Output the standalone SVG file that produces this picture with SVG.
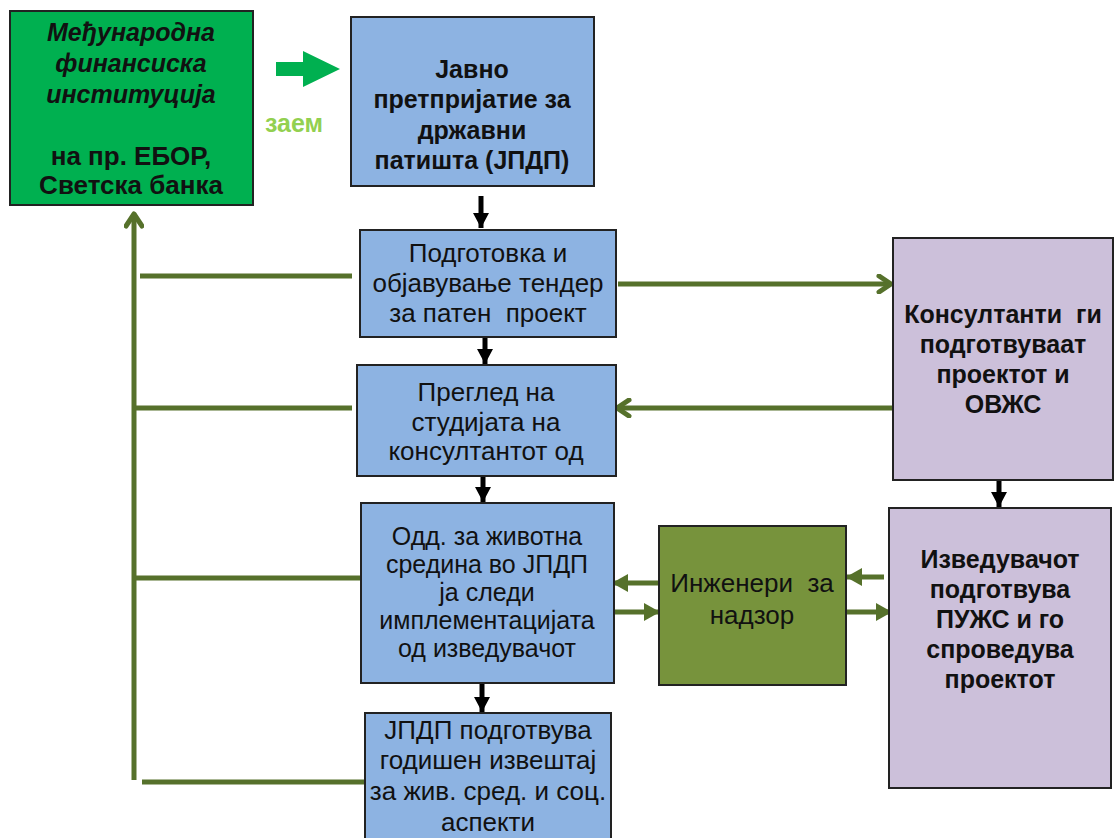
<svg xmlns="http://www.w3.org/2000/svg" width="1114" height="838" viewBox="0 0 1114 838">
<style>
.box{stroke:#222;stroke-width:2}
.blue{fill:#8DB3E2}
.purple{fill:#CCC0DA}
.olive{fill:#77933C}
.fin{fill:#00B050}
text{font-family:"Liberation Sans",Arial,sans-serif;text-anchor:middle;fill:#111}
.b{font-weight:bold;font-size:25px}
.r{font-size:26px}
.r2{font-size:25px}
.it{font-weight:bold;font-style:italic;font-size:25px}
.g{fill:none;stroke:#56712B;stroke-width:5}
.k{fill:none;stroke:#000;stroke-width:5}
</style>
<defs>
<marker id="open" viewBox="0 0 20 20" refX="17" refY="10" markerUnits="userSpaceOnUse" markerWidth="20" markerHeight="20" orient="auto">
<path d="M5,2 L17,10 L5,18" fill="none" stroke="#56712B" stroke-width="5" stroke-linecap="round" stroke-linejoin="round"/>
</marker>
<marker id="fill" viewBox="0 0 16 18" refX="15" refY="9" markerUnits="userSpaceOnUse" markerWidth="16" markerHeight="18" orient="auto">
<path d="M0,0 L16,9 L0,18 Z" fill="#56712B"/>
</marker>
<marker id="blk" viewBox="0 0 16 16" refX="8" refY="15" markerUnits="userSpaceOnUse" markerWidth="16" markerHeight="16" orient="0">
<path d="M0,0 L16,0 L8,15 Z" fill="#000"/>
</marker>
</defs>

<g id="connectors">
<!-- left feedback bus -->
<line class="g" x1="134" y1="780" x2="134" y2="214" marker-end="url(#open)"/>
<line class="g" x1="140" y1="276" x2="352" y2="276"/>
<line class="g" x1="134" y1="408" x2="352" y2="408"/>
<line class="g" x1="134" y1="578" x2="360" y2="578"/>
<line class="g" x1="142" y1="782" x2="366" y2="782"/>
<!-- consultants -->
<line class="g" x1="618" y1="284" x2="891" y2="284" marker-end="url(#open)"/>
<line class="g" x1="893" y1="408" x2="617" y2="408" marker-end="url(#open)"/>
<!-- supervision -->
<line class="g" x1="659" y1="583" x2="613" y2="583" marker-end="url(#fill)"/>
<line class="g" x1="615" y1="612" x2="659" y2="612" marker-end="url(#fill)"/>
<line class="g" x1="884" y1="577" x2="847" y2="577" marker-end="url(#fill)"/>
<line class="g" x1="847" y1="612" x2="891" y2="612" marker-end="url(#fill)"/>
<!-- black down arrows -->
<line class="k" x1="481" y1="196" x2="481" y2="228" marker-end="url(#blk)"/>
<line class="k" x1="485" y1="338" x2="485" y2="364" marker-end="url(#blk)"/>
<line class="k" x1="483" y1="477" x2="483" y2="502" marker-end="url(#blk)"/>
<line class="k" x1="482" y1="684" x2="482" y2="712" marker-end="url(#blk)"/>
<line class="k" x1="999" y1="480" x2="999" y2="507" marker-end="url(#blk)"/>
<!-- loan arrow -->
<path d="M276,62 L303,62 L303,51 L340,69 L303,87 L303,76 L276,76 Z" fill="#00B050"/>
<text x="294" y="132" style="font-weight:bold;font-size:25px;fill:#92D050">заем</text>
</g>

<g id="ifi">
<rect class="box fin" x="10" y="11" width="243" height="194"/>
<text class="it" x="131" y="41">Међународна</text>
<text class="it" x="131" y="72">финансиска</text>
<text class="it" x="131" y="103">институција</text>
<text class="b" x="131" y="165" style="font-size:26px">на пр. ЕБОР,</text>
<text class="b" x="131" y="194" style="font-size:26px">Светска банка</text>
</g>

<g id="jpdp">
<rect class="box blue" x="351" y="17" width="243" height="169"/>
<text class="b" x="472" y="78">Јавно</text>
<text class="b" x="472" y="108">претпријатие за</text>
<text class="b" x="472" y="139">државни</text>
<text class="b" x="472" y="169">патишта (ЈПДП)</text>
</g>

<g id="tender">
<rect class="box blue" x="360" y="230" width="256" height="107"/>
<text class="r" x="488" y="262">Подготовка и</text>
<text class="r" x="488" y="292">објавување тендер</text>
<text class="r" x="488" y="322" xml:space="preserve">за патен  проект</text>
</g>

<g id="review">
<rect class="box blue" x="357" y="365" width="259" height="111"/>
<text class="r" x="486" y="401">Преглед на</text>
<text class="r" x="486" y="431">студијата на</text>
<text class="r" x="486" y="460">консултантот од</text>
</g>

<g id="envdept">
<rect class="box blue" x="361" y="503" width="253" height="180"/>
<text class="r2" x="487" y="545">Одд. за животна</text>
<text class="r2" x="487" y="573">средина во ЈПДП</text>
<text class="r2" x="487" y="601">ја следи</text>
<text class="r2" x="487" y="629">имплементацијата</text>
<text class="r2" x="487" y="657">од изведувачот</text>
</g>

<g id="report">
<rect class="box blue" x="365" y="713" width="246" height="130"/>
<text class="r" x="488" y="739">ЈПДП подготвува</text>
<text class="r" x="488" y="769">годишен извештај</text>
<text class="r" x="488" y="800">за жив. сред. и соц.</text>
<text class="r" x="488" y="831">аспекти</text>
</g>

<g id="supervision">
<rect class="box olive" x="659" y="526" width="187" height="159"/>
<text class="r" x="752" y="592" xml:space="preserve">Инженери  за</text>
<text class="r" x="752" y="624">надзор</text>
</g>

<g id="consultants">
<rect class="box purple" x="893" y="238" width="220" height="242"/>
<text class="b" x="1003" y="323" xml:space="preserve">Консултанти  ги</text>
<text class="b" x="1003" y="353">подготвуваат</text>
<text class="b" x="1003" y="383">проектот и</text>
<text class="b" x="1003" y="413">ОВЖС</text>
</g>

<g id="contractor">
<rect class="box purple" x="889" y="508" width="222" height="280"/>
<text class="b" x="1000" y="568">Изведувачот</text>
<text class="b" x="1000" y="598">подготвува</text>
<text class="b" x="1000" y="628">ПУЖС и го</text>
<text class="b" x="1000" y="658">спроведува</text>
<text class="b" x="1000" y="688">проектот</text>
</g>
</svg>
